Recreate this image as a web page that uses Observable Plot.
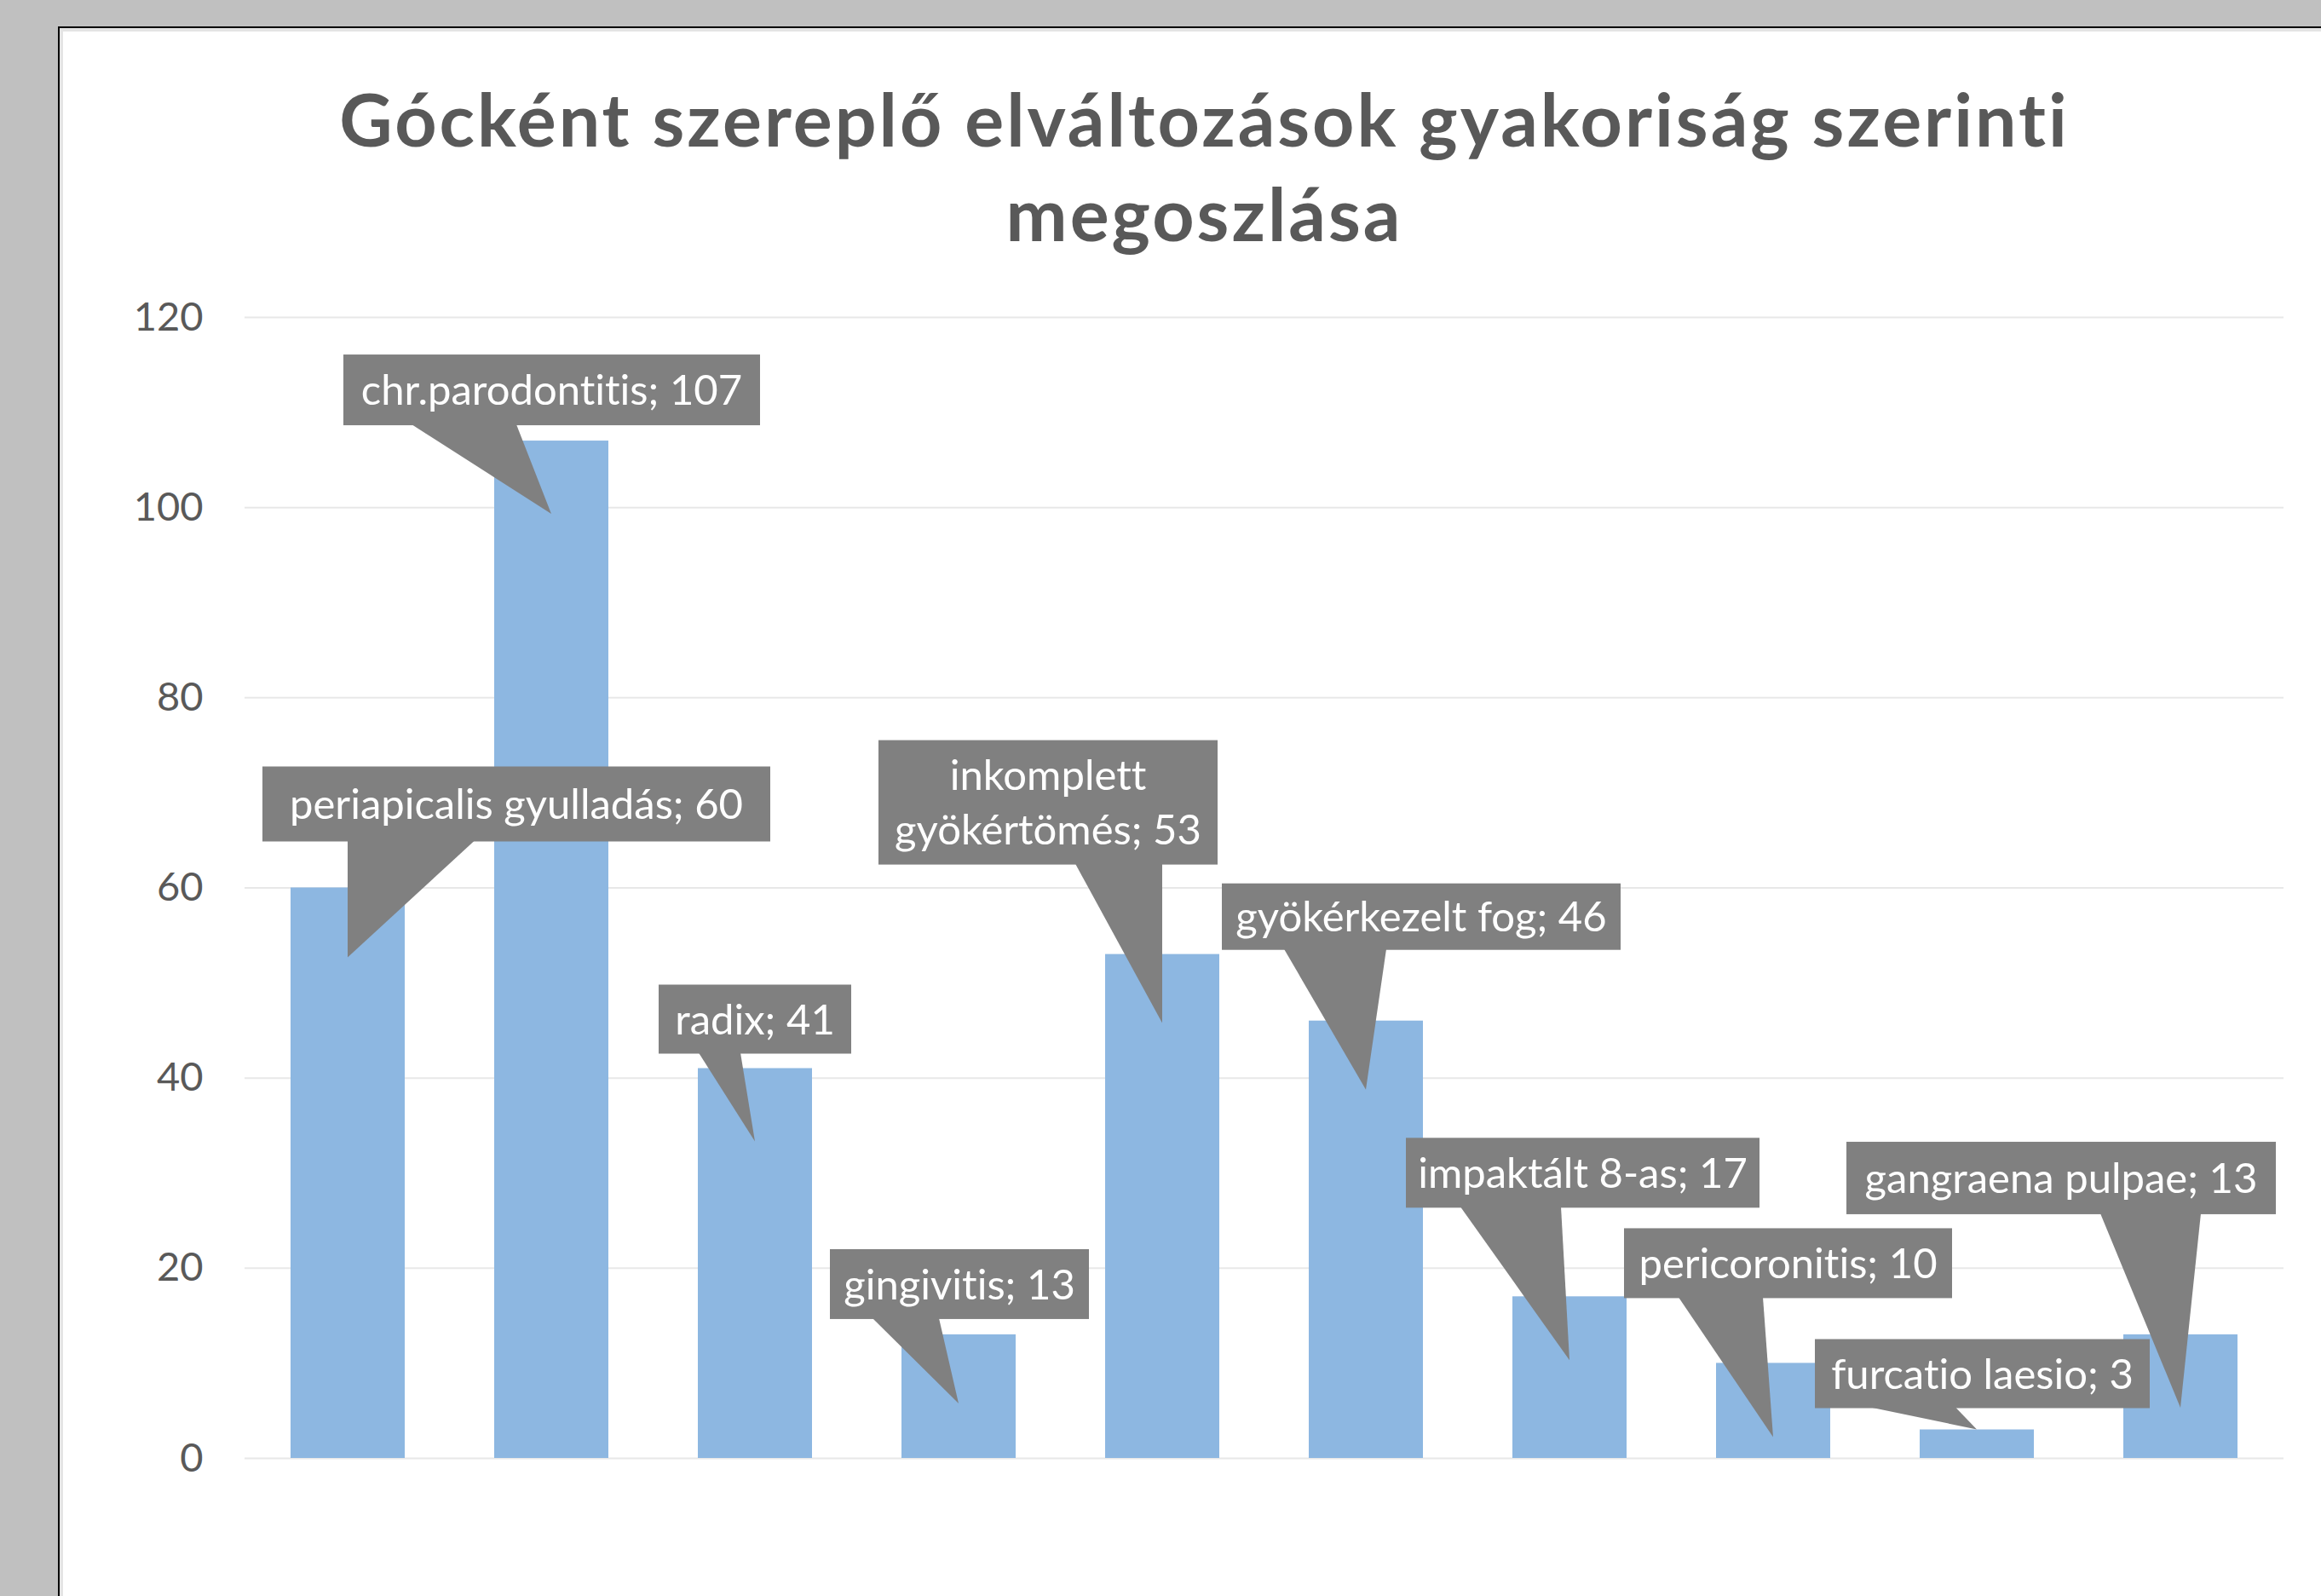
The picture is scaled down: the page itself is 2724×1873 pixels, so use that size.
<!DOCTYPE html>
<html>
<head>
<meta charset="utf-8">
<script src="https://cdn.jsdelivr.net/npm/d3@7"></script>
<script src="https://cdn.jsdelivr.net/npm/@observablehq/plot@0.6"></script>
<style>
  html, body { margin: 0; padding: 0; width: 2724px; height: 1873px; overflow: hidden; background: #c0c0c0; }
  #frame { position: absolute; left: 68px; top: 31px; width: 2720px; height: 1900px; background: #fff;
           border-left: 2px solid #000; border-top: 2px solid #000; box-shadow: inset 4px 4px 0 #e4e4e4; }
  #title { position: absolute; left: 0; width: 2827px; top: 83px; text-align: center;
           font-family: Lato, "Open Sans", sans-serif; font-weight: 700; font-size: 86px; line-height: 111px;
           letter-spacing: 3px; color: #595959; font-variant-ligatures: none; }
  #chart { position: absolute; left: 0; top: 330px; }
  #chart text { font-variant-ligatures: none; }
</style>
</head>
<body>
<div id="frame"></div>
<div id="title">Gócként szereplő elváltozások gyakoriság szerinti<br>megoszlása</div>
<div id="chart"></div>
<script>
// ---- data ----
const categories = [
  "periapicalis gyulladás",
  "chr.parodontitis",
  "radix",
  "gingivitis",
  "inkomplett gyökértömés",
  "gyökérkezelt fog",
  "impaktált 8-as",
  "pericoronitis",
  "furcatio laesio",
  "gangraena pulpae"
];
const counts = [60, 107, 41, 13, 53, 46, 17, 10, 3, 13];
const yTicks = [0, 20, 40, 60, 80, 100, 120];

// ---- callout layout (pixel offsets relative to the top-centre of each bar) ----
// box: [left, top, right, bottom], base: pointer base x-range on box bottom, tip: pointer tip y
const calloutLayout = [
  {box: [-100, -142, 496, -54], base: [0, 149], tip: 82},
  {box: [-244, -101, 245, -18], base: [-164, -41], tip: 86},
  {box: [-113, -98, 113, -17], base: [-66, -17], tip: 86},
  {box: [-151, -100, 153, -18], base: [-101, -23], tip: 81},
  {box: [-333, -251, 65, -105], base: [-102, 0], tip: 81, wrap: true},
  {box: [-169, -161, 299, -83], base: [-96, 24], tip: 81},
  {box: [-192, -186, 223, -104], base: [-128, -10], tip: 75},
  {box: [-175, -158, 210, -76], base: [-111, -12], tip: 87},
  {box: [-190, -106, 203, -25], base: [-125, -25], tip: 0},
  {box: [-392, -226, 112, -141], base: [-94, 24], tip: 86}
];

const rows = categories.map((category, i) => ({category, count: counts[i]}));

function callouts(index, scales, values, dimensions) {
  const x = scales.x, y = scales.y;
  const n = categories.length;
  const step = (dimensions.width - dimensions.marginLeft - dimensions.marginRight) / n;
  const bw = typeof x.bandwidth === "function" ? x.bandwidth() : null;
  const g = d3.create("svg:g").attr("class", "callouts");
  categories.forEach((cat, i) => {
    const L = calloutLayout[i];
    const cx = bw != null ? x(cat) + bw / 2 : dimensions.marginLeft + step * (i + 0.5);
    const cy = y(counts[i]);
    const [bx0, by0, bx1, by1] = L.box;
    const c = g.append("g").attr("transform", `translate(${cx},${cy})`);
    c.append("path")
      .attr("d", `M${L.base[0]},${by1 - 1}L0,${L.tip}L${L.base[1]},${by1 - 1}Z`)
      .attr("fill", "#808080");
    c.append("rect")
      .attr("x", bx0).attr("y", by0)
      .attr("width", bx1 - bx0).attr("height", by1 - by0)
      .attr("fill", "#808080");
    let lines;
    if (L.wrap) {
      const parts = cat.split(" ");
      lines = [parts[0], parts.slice(1).join(" ") + "; " + counts[i]];
    } else {
      lines = [`${cat}; ${counts[i]}`];
    }
    const mid = (by0 + by1) / 2;
    const lh = 64;
    lines.forEach((t, k) => {
      c.append("text")
        .attr("x", (bx0 + bx1) / 2)
        .attr("y", mid + (k - (lines.length - 1) / 2) * lh)
        .attr("dy", "0.36em")
        .attr("text-anchor", "middle")
        .attr("fill", "#ffffff")
        .attr("font-family", "Lato, sans-serif")
        .attr("font-size", 49)
        .text(t);
    });
  });
  return g.node();
}

const plot = Plot.plot({
  width: 2724,
  height: 1543,
  marginLeft: 287,
  marginRight: 44,
  marginTop: 42,
  marginBottom: 162,
  style: {background: "transparent", fontFamily: "Lato, sans-serif", fontSize: "47px", color: "#595959", overflow: "visible"},
  x: {domain: categories, paddingInner: 0.44, paddingOuter: 0.22, axis: null},
  y: {domain: [0, 120], ticks: yTicks, tickSize: 0, tickPadding: 49, label: null, tickFormat: d => `${d}`},
  marks: [
    Plot.ruleY(yTicks, {stroke: "#e8e8e8", strokeWidth: 2}),
    Plot.barY(rows, {x: "category", y: "count", fill: "#8db7e1"}),
    callouts
  ]
});
document.getElementById("chart").appendChild(plot);
</script>
</body>
</html>
